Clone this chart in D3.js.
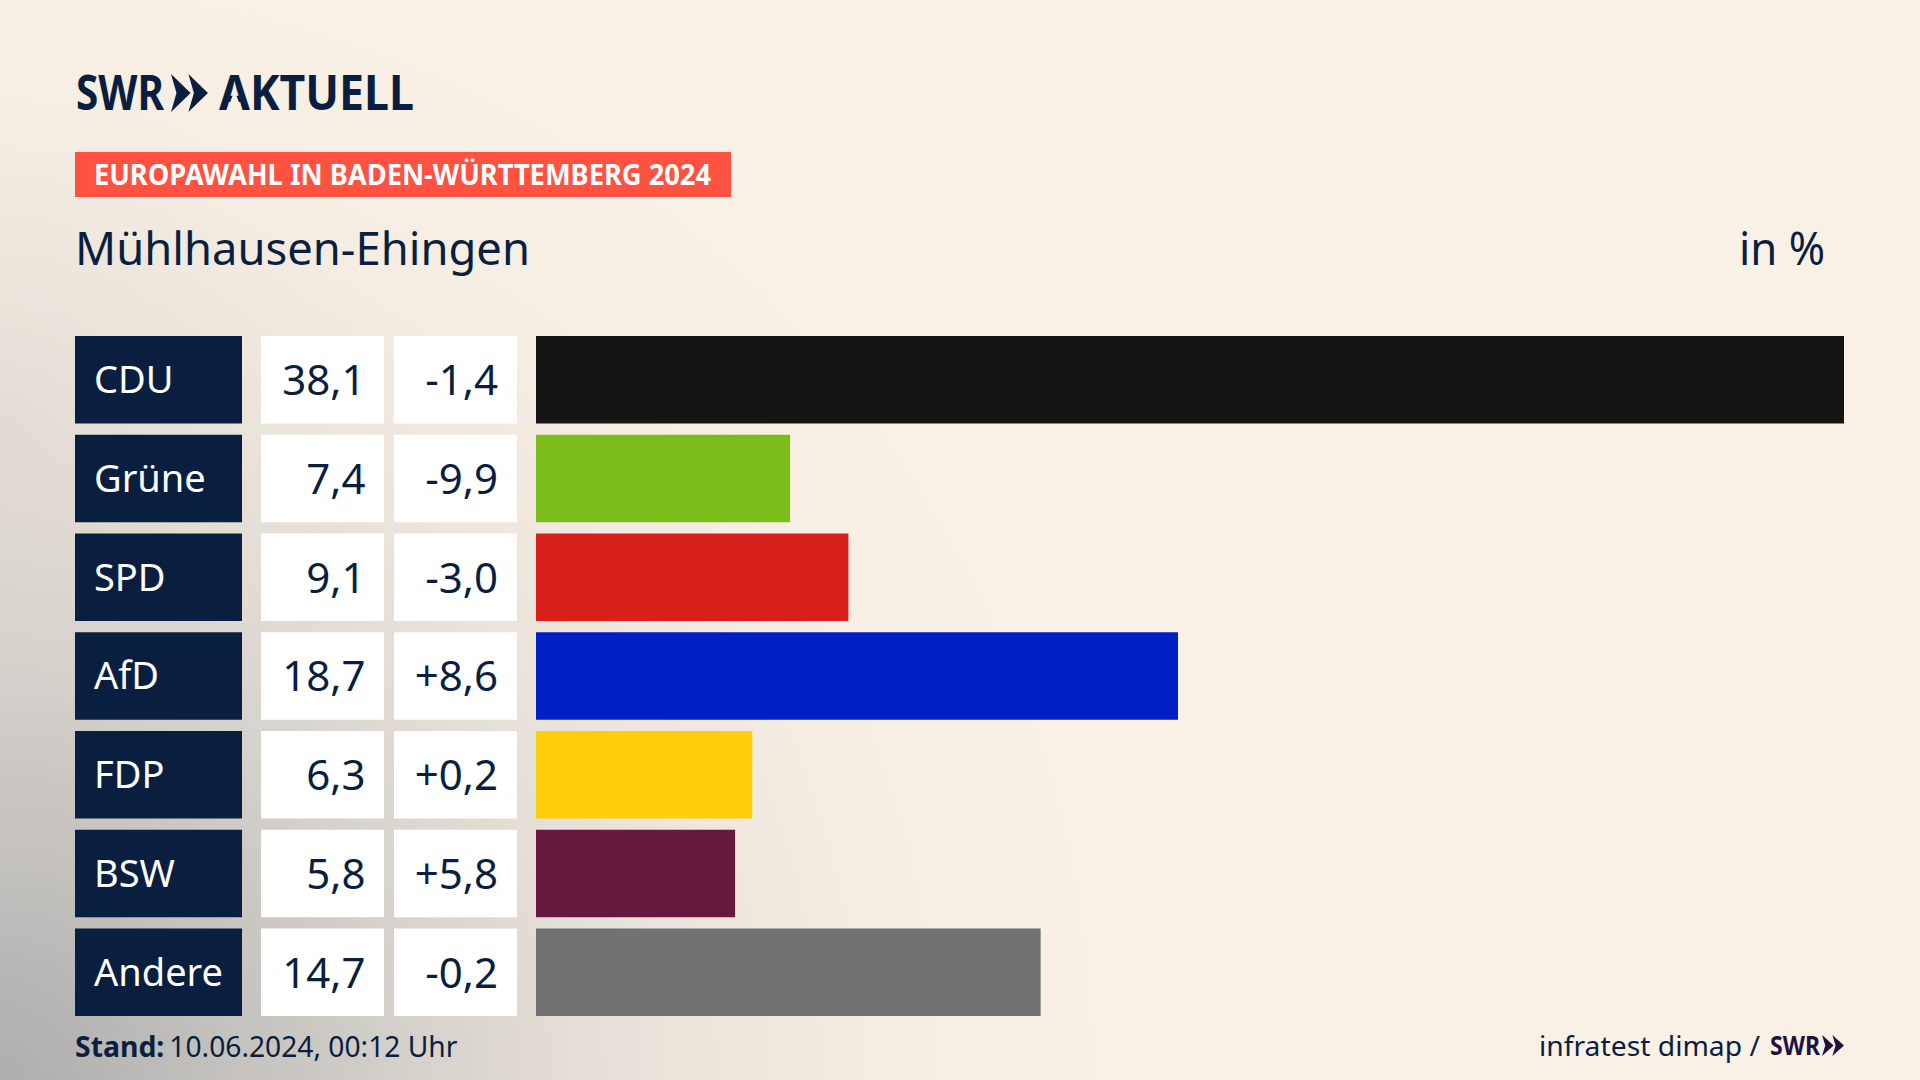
<!DOCTYPE html>
<html><head><meta charset="utf-8">
<script src="https://cdn.jsdelivr.net/npm/d3@7"></script>
<style>
html,body{margin:0;padding:0;background:#faf1e6;overflow:hidden}
svg{display:block}
text{font-family:"Noto Sans",sans-serif}
</style></head><body>
<svg id="c" width="1920" height="1080"></svg>
<script>
const parties = ["CDU","Grüne","SPD","AfD","FDP","BSW","Andere"];
const shares = [38.1,7.4,9.1,18.7,6.3,5.8,14.7];
const changes = ["-1,4","-9,9","-3,0","+8,6","+0,2","+5,8","-0,2"];
const barColors = ["#141414","#7bbd1a","#d81f1c","#0020c4","#ffcd0a","#66183d","#717273"];
const navy = "#0a1f3f";
const fmt = v => v.toFixed(1).replace(".",",");

const svg = d3.select("#c");
const defs = svg.append("defs");
const g1 = defs.append("radialGradient").attr("id","bg1").attr("gradientUnits","userSpaceOnUse")
  .attr("cx",0).attr("cy",1080).attr("r",1200);
[[0,"#adadac",1],[0.3,"#cbc8c4",0.9],[0.6,"#e6dfd7",0.6],[1,"#faf1e6",0]].forEach(s=>
  g1.append("stop").attr("offset",s[0]).attr("stop-color",s[1]).attr("stop-opacity",s[2]));
const g2 = defs.append("radialGradient").attr("id","bg2").attr("gradientUnits","userSpaceOnUse")
  .attr("cx",0).attr("cy",420).attr("r",420);
[[0,"#d5d1cb",0.7],[1,"#faf1e6",0]].forEach(s=>
  g2.append("stop").attr("offset",s[0]).attr("stop-color",s[1]).attr("stop-opacity",s[2]));
svg.append("rect").attr("width",1920).attr("height",1080).attr("fill","#faf1e6");
svg.append("rect").attr("width",1920).attr("height",1080).attr("fill","url(#bg2)");
svg.append("rect").attr("width",1920).attr("height",1080).attr("fill","url(#bg1)");

const x = d3.scaleLinear().domain([0,38.1]).range([536,1844]);
const y = d3.scaleBand().domain(parties).range([336,1016]).paddingInner(0.1139).paddingOuter(0);
const rows = svg.selectAll("g.row").data(parties).join("g").attr("class","row")
  .attr("transform",d=>`translate(0,${y(d)})`);
const h = y.bandwidth();
rows.append("rect").attr("x",75).attr("width",167).attr("height",h).attr("fill",navy);
rows.append("rect").attr("x",261).attr("width",123).attr("height",h).attr("fill","#fff");
rows.append("rect").attr("x",394).attr("width",123).attr("height",h).attr("fill","#fff");
rows.append("rect").attr("x",x(0)).attr("height",h).attr("width",(d,i)=>x(shares[i])-x(0)).attr("fill",(d,i)=>barColors[i]);
rows.append("text").attr("x",94).attr("y",h/2+13.5).attr("font-size",38).attr("fill","#fff").text(d=>d);
rows.append("text").attr("x",365.5).attr("y",h/2+15.5).attr("text-anchor","end").attr("font-size",42).attr("fill",navy).text((d,i)=>fmt(shares[i]));
rows.append("text").attr("x",498).attr("y",h/2+15.5).attr("text-anchor","end").attr("font-size",42).attr("fill",navy).text((d,i)=>changes[i]);

// Header
function fit(sel,len){return sel.attr("textLength",len).attr("lengthAdjust","spacingAndGlyphs");}
fit(svg.append("text").attr("x",76).attr("y",110).attr("font-size",49).attr("font-weight",700).attr("fill",navy).text("SWR"),88);
fit(svg.append("text").attr("x",219).attr("y",110).attr("font-size",49).attr("font-weight",700).attr("fill",navy).text("AKTUELL"),195);
// the logo's A has no crossbar
svg.append("path").attr("d",d3.line()([[233.5,93],[235.5,93],[239.5,104],[229.5,104]])+"Z").attr("fill","#f8efe5");
function chev(x0,y0,w,ht,fill){
  const p = d3.path();
  [0,0.47].forEach(o=>{
    const a=x0+o*w, cw=w*0.53;
    p.moveTo(a,y0); p.lineTo(a+cw,y0+ht/2); p.lineTo(a,y0+ht); p.lineTo(a+cw*0.28,y0+ht/2); p.closePath();
  });
  svg.append("path").attr("d",p.toString()).attr("fill",fill);
}
chev(171,74,37,38,navy);
svg.append("rect").attr("x",75).attr("y",152).attr("width",656).attr("height",45).attr("fill","#ff5240");
fit(svg.append("text").attr("x",94).attr("y",185).attr("font-size",28).attr("font-weight",700).attr("fill","#fff").text("EUROPAWAHL IN BADEN-WÜRTTEMBERG 2024"),617);
fit(svg.append("text").attr("x",75).attr("y",265).attr("font-size",45).attr("fill",navy).text("Mühlhausen-Ehingen"),455);
fit(svg.append("text").attr("x",1739).attr("y",265).attr("font-size",45).attr("fill",navy).text("in %"),86);

// Footer
const foot = svg.append("text").attr("x",75).attr("y",1057).attr("font-size",28.4).attr("fill",navy);
foot.append("tspan").attr("font-weight",700).text("Stand:");
foot.append("tspan").attr("dx",5).attr("font-size",28.2).text("10.06.2024, 00:12 Uhr");
fit(svg.append("text").attr("x",1539).attr("y",1056).attr("font-size",28).attr("fill",navy).text("infratest dimap /"),221);
fit(svg.append("text").attr("x",1770).attr("y",1055).attr("font-size",27).attr("font-weight",700).attr("fill","#22103f").text("SWR"),50);
chev(1822,1035,22,21,"#22103f");
</script></body></html>
